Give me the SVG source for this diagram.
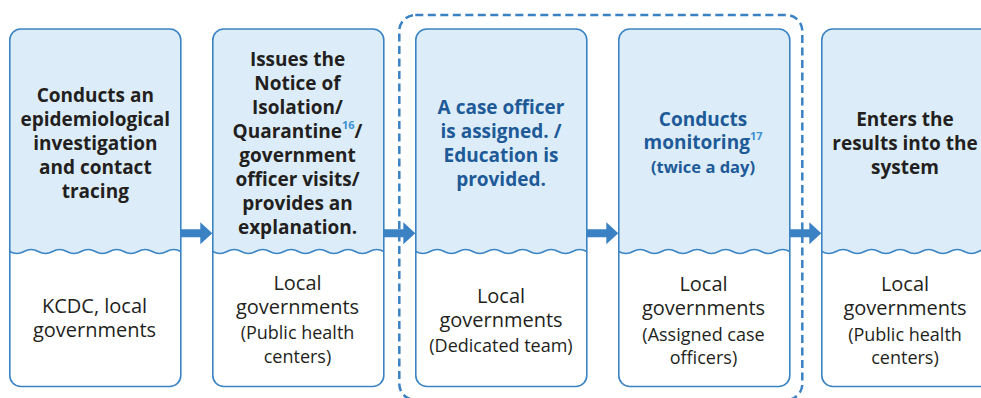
<svg xmlns="http://www.w3.org/2000/svg" xmlns:xlink="http://www.w3.org/1999/xlink" width="981" height="398" viewBox="0 0 981 398">
<style>
.bg{fill:#ffffff}
.top{fill:#dcedf9}
.wave{fill:none;stroke:#3b84c4;stroke-width:1.6}
.frame{fill:none;stroke:#3b84c4;stroke-width:1.6}
.h{font-family:"Open Sans","Noto Sans",sans-serif;font-weight:700;font-size:19px;fill:#231f20;text-anchor:middle}
.hb{fill:#1e5a98}
.sup{font-size:11px;fill:#3c8fd1}
.s{font-family:"Open Sans","Noto Sans",sans-serif;font-size:20px;fill:#231f20;text-anchor:middle}
.p{font-size:18px}
.arrow{fill:#3a82c4}
.dash{fill:none;stroke:#3a82c4;stroke-width:2.5;stroke-dasharray:8 4.5}
</style>
<defs>
<g id="shape">
<rect class="bg" x="0" y="0" width="171" height="357.5" rx="11"/>
<path class="top" d="M0,222.5 V11 Q0,0 11,0 H160 Q171,0 171,11 V222.5 q-7.125,-4 -14.25,0 t-14.25,0 t-14.25,0 t-14.25,0 t-14.25,0 t-14.25,0 t-14.25,0 t-14.25,0 t-14.25,0 t-14.25,0 t-14.25,0 t-14.25,0 Z"/>
<path class="wave" d="M0,222.5 q7.125,4 14.25,0 t14.25,0 t14.25,0 t14.25,0 t14.25,0 t14.25,0 t14.25,0 t14.25,0 t14.25,0 t14.25,0 t14.25,0 t14.25,0"/>
<rect class="frame" x="0" y="0" width="171" height="357.5" rx="11"/>
</g>
<path id="arr" d="M0,-4 H19.5 V-11 L31.5,0 L19.5,11 V4 H0 Z"/>
</defs>

<g id="group-frame">
<rect class="dash" x="399.3" y="15" width="403" height="385" rx="16"/>
</g>

<g id="n1">
<use xlink:href="#shape" x="9.8" y="29"/>
<text class="h" x="95.3" y="101.5">Conducts an</text>
<text class="h" x="95.3" y="125.5">epidemiological</text>
<text class="h" x="95.3" y="149.5">investigation</text>
<text class="h" x="95.3" y="173.5">and contact</text>
<text class="h" x="95.3" y="197.5">tracing</text>
<text class="s" x="94.5" y="313.3">KCDC, local</text>
<text class="s" x="94.5" y="337.3">governments</text>
</g>

<g id="n2">
<use xlink:href="#shape" x="212.8" y="29"/>
<text class="h" x="297.5" y="65.5">Issues the</text>
<text class="h" x="297.5" y="89.5">Notice of</text>
<text class="h" x="297.5" y="113.5">Isolation/</text>
<text class="h" x="297.5" y="137.5">Quarantine<tspan class="sup" dy="-9">16</tspan><tspan dy="9">/</tspan></text>
<text class="h" x="297.5" y="161.5">government</text>
<text class="h" x="297.5" y="185.5">officer visits/</text>
<text class="h" x="297.5" y="209.5">provides an</text>
<text class="h" x="297.5" y="233.5">explanation.</text>
<text class="s" x="297.5" y="289.5">Local</text>
<text class="s" x="297.5" y="313.5">governments</text>
<text class="s p" x="297.5" y="339">(Public health</text>
<text class="s p" x="297.5" y="363">centers)</text>
</g>

<g id="n3">
<use xlink:href="#shape" x="415.8" y="29"/>
<text class="h hb" x="501" y="113.7">A case officer</text>
<text class="h hb" x="501" y="137.7">is assigned. /</text>
<text class="h hb" x="501" y="161.7">Education is</text>
<text class="h hb" x="501" y="185.7">provided.</text>
<text class="s" x="501" y="303">Local</text>
<text class="s" x="501" y="327">governments</text>
<text class="s p" x="501" y="352.3">(Dedicated team)</text>
</g>

<g id="n4">
<use xlink:href="#shape" x="618.8" y="29"/>
<text class="h hb" x="703" y="126">Conducts</text>
<text class="h hb" x="703" y="149">monitoring<tspan class="sup" dy="-9">17</tspan></text>
<text class="h hb" x="703" y="172.7" style="font-size:16.5px">(twice a day)</text>
<text class="s" x="703.5" y="291.2">Local</text>
<text class="s" x="703.5" y="315.2">governments</text>
<text class="s p" x="703.5" y="340.7">(Assigned case</text>
<text class="s p" x="703.5" y="364">officers)</text>
</g>

<g id="n5">
<use xlink:href="#shape" x="821.8" y="29"/>
<text class="h" x="905" y="126">Enters the</text>
<text class="h" x="905" y="150">results into the</text>
<text class="h" x="905" y="174">system</text>
<text class="s" x="905" y="291.2">Local</text>
<text class="s" x="905" y="315.2">governments</text>
<text class="s p" x="905" y="340.7">(Public health</text>
<text class="s p" x="905" y="364">centers)</text>
</g>

<g id="connectors">
<use class="arrow" xlink:href="#arr" x="180.8" y="233.3"/>
<use class="arrow" xlink:href="#arr" x="383.8" y="233.3"/>
<use class="arrow" xlink:href="#arr" x="586.8" y="233.3"/>
<use class="arrow" xlink:href="#arr" x="789.8" y="233.3"/>
</g>
</svg>
